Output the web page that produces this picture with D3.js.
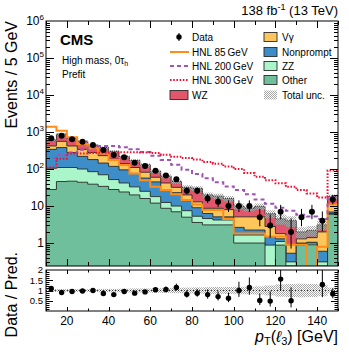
<!DOCTYPE html>
<html>
<head>
<meta charset="utf-8">
<script src="https://cdn.jsdelivr.net/npm/d3@7"></script>
<style>
  body { margin: 0; background: #fff; }
  svg { display: block; font-family: "Liberation Sans", Arial, Helvetica, sans-serif; }
</style>
</head>
<body>
<svg id="chart" width="349" height="352"></svg>
<script>
// pT(l3) bins, 5 GeV wide
const binLow = [10, 15, 20, 25, 30, 35, 40, 45, 50, 55, 60, 65, 70, 75, 80, 85, 90, 95, 100, 105, 110, 115, 120, 125, 130, 135, 140, 145]
const binHigh = 150

// background processes (events per bin)
const other = [28, 46, 47, 44, 39, 34, 28, 24, 20, 16, 12, 8.7, 7, 5, 3.6, 3.1, 3.1, 3.1, 1.0, 1.0, 1.0, 0, 0.88, 0, 0.88, 0.9, 0, 6.0]
const zz = [77, 64, 63, 56, 46, 36, 24, 18, 13, 9, 6, 3.8, 3, 2.5, 1.7, 1.5, 1.1, 1.1, 0.65, 0.65, 0.65, 0.88, 0.22, 0.31, 0.07, 0.1, 0.31, 0.3]
const nonprompt = [235, 270, 170, 120, 95, 75, 66, 53, 43, 32, 27, 15.5, 13, 6.5, 3.7, 1.7, 0.9, 0.9, 1.0, 0.6, 0.6, 0.62, 0.2, 0.22, 0.05, 0.05, 0.29, 0.6]
const vgamma = [80, 180, 140, 120, 100, 85, 67, 45, 34, 25, 15, 14, 9, 6, 4, 2.4, 3.6, 2.9, 2.45, 2.85, 2.85, 1.3, 0.5, 0.37, 0.3, 0.35, 1.4, 4.1]
const wz = [195, 320, 250, 225, 165, 150, 115, 78, 60, 48, 27, 22, 14, 12, 17, 11.3, 9.8, 8, 4.9, 3.6, 4.7, 3.4, 2.7, 3.1, 0.7, 0.8, 1.1, 7]
// relative total uncertainty
const relUnc = [0.07, 0.07, 0.07, 0.07, 0.07, 0.08, 0.08, 0.09, 0.1, 0.1, 0.11, 0.12, 0.13, 0.14, 0.15, 0.16, 0.17, 0.17, 0.18, 0.18, 0.2, 0.24, 0.3, 0.32, 0.33, 0.32, 0.28, 0.14]

// signals
const hnl85 = [1390, 1085, 720, 475, 362, 265, 175, 128, 76, 50, 33, 27, 21, 14.5, 11, 7.8, 7.8, 4.5, 1.8, 1.8, 1.8, 1.5, 1.5, 0.9, 0.9, 0, 0.8, 11]
const hnl200 = [200, 240, 280, 330, 380, 420, 420, 390, 340, 290, 230, 175, 130, 95, 73, 56, 44, 34, 27, 21, 15, 11.5, 9, 7.5, 5.8, 5.2, 4.5, 18]
const hnl300 = [110, 190, 265, 265, 270, 275, 280, 285, 285, 280, 272, 245, 215, 200, 180, 155, 140, 118, 100, 78, 62, 50, 41, 33, 27, 22, 17, 92]

// observed
const data = [676, 795, 635, 550, 445, 325, 240, 207, 148, 121, 90, 67, 53, 26, 26, 16, 13, 10, 10, 10, 5, 3, 7, 2, 5, 7, 4, 15]

const yTickExp = [0, 1, 2, 3, 4, 5, 6]
const xTickLabels = [20, 40, 60, 80, 100, 120, 140]
const ratioTickLabels = [0.5, 1, 1.5, 2]

const colors = {
  wz: '#e1566a',
  vgamma: '#fcc65c',
  nonprompt: '#3d8ec8',
  zz: '#aaf5c9',
  other: '#70bf9c',
  hnl85: '#ff8c17',
  hnl200: '#9e55b3',
  hnl300: '#ee1133'
}

const svg = d3.select('#chart')
const L = 46, R = 338, T = 21, B = 266, RT = 270, RB = 311

const x = d3.scaleLinear().domain([10, binHigh]).range([L, R])
const y = d3.scaleLog().domain([0.24, 1e6]).range([B, T]).clamp(true)
const yr = d3.scaleLinear().domain([0, 2]).range([RB, RT])

const defs = svg.append('defs')
const pat = defs.append('pattern').attr('id', 'unc').attr('width', 2).attr('height', 2)
  .attr('patternUnits', 'userSpaceOnUse')
pat.append('rect').attr('width', 1).attr('height', 1).attr('fill', '#a6a6a6')
pat.append('rect').attr('x', 1).attr('y', 1).attr('width', 1).attr('height', 1).attr('fill', '#a6a6a6')
defs.append('clipPath').attr('id', 'clipMain').append('rect')
  .attr('x', L).attr('y', T).attr('width', R - L).attr('height', B - T)
defs.append('clipPath').attr('id', 'clipRatio').append('rect')
  .attr('x', L).attr('y', RT).attr('width', R - L).attr('height', RB - RT)

const stepPts = vals => binLow.map((b, i) => [b, vals[i]]).concat([[binHigh, vals[vals.length - 1]]])

// ---- main panel
const main = svg.append('g').attr('clip-path', 'url(#clipMain)')
const rows = binLow.map((b, i) => ({ other: other[i], zz: zz[i], nonprompt: nonprompt[i], vgamma: vgamma[i], wz: wz[i] }))
const keys = ['other', 'zz', 'nonprompt', 'vgamma', 'wz']
const series = d3.stack().keys(keys)(rows)
const total = series[series.length - 1].map(d => d[1])

const area = d3.area().curve(d3.curveStepAfter)
  .x(d => x(d[0])).y0(B + 2).y1(d => y(Math.max(d[1], 0.01)))

series.slice().reverse().forEach(s => {
  const tops = s.map(d => d[1])
  main.append('path')
    .attr('d', area(stepPts(tops)))
    .attr('fill', colors[s.key])
    .attr('stroke', '#2a2a2a')
    .attr('stroke-width', 0.9)
})

main.selectAll('rect.unc').data(binLow).join('rect')
  .attr('x', d => x(d)).attr('width', d => x(d + 5) - x(d))
  .attr('y', (d, i) => y(total[i] * (1 + relUnc[i])))
  .attr('height', (d, i) => y(total[i] * (1 - relUnc[i])) - y(total[i] * (1 + relUnc[i])))
  .attr('fill', 'url(#unc)')

const line = d3.line().curve(d3.curveStepAfter).x(d => x(d[0])).y(d => y(Math.max(d[1], 0.01)))
main.append('path').attr('d', line(stepPts(hnl85))).attr('fill', 'none')
  .attr('stroke', colors.hnl85).attr('stroke-width', 2)
main.append('path').attr('d', line(stepPts(hnl200))).attr('fill', 'none')
  .attr('stroke', colors.hnl200).attr('stroke-width', 2).attr('stroke-dasharray', '4,3')
main.append('path').attr('d', line(stepPts(hnl300))).attr('fill', 'none')
  .attr('stroke', colors.hnl300).attr('stroke-width', 2).attr('stroke-dasharray', '1.6,1.6')

// Poisson (Garwood-like) intervals
const errLo = n => n === 0 ? 0 : n - n * Math.pow(1 - 1 / (9 * n) - 1 / (3 * Math.sqrt(n)), 3)
const errHi = n => (n + 1) * Math.pow(1 - 1 / (9 * (n + 1)) + 1 / (3 * Math.sqrt(n + 1)), 3) - n

const cx = i => x(binLow[i] + 2.5)
const pts = main.append('g')
data.forEach((n, i) => {
  pts.append('line').attr('x1', cx(i)).attr('x2', cx(i))
    .attr('y1', y(n + errHi(n))).attr('y2', y(Math.max(n - errLo(n), 0.01)))
    .attr('stroke', '#000').attr('stroke-width', 1)
  pts.append('circle').attr('cx', cx(i)).attr('cy', y(n)).attr('r', 3).attr('fill', '#000')
})

// ---- ratio panel
const rat = svg.append('g').attr('clip-path', 'url(#clipRatio)')
rat.selectAll('rect.unc').data(binLow).join('rect')
  .attr('x', d => x(d)).attr('width', d => x(d + 5) - x(d))
  .attr('y', (d, i) => yr(1 + relUnc[i]))
  .attr('height', (d, i) => yr(1 - relUnc[i]) - yr(1 + relUnc[i]))
  .attr('fill', 'url(#unc)')
rat.append('line').attr('x1', L).attr('x2', R).attr('y1', yr(1)).attr('y2', yr(1))
  .attr('stroke', '#333').attr('stroke-width', 1).attr('stroke-dasharray', '1,2')
data.forEach((n, i) => {
  const r = n / total[i]
  if (r > 2.3) return
  rat.append('line').attr('x1', cx(i)).attr('x2', cx(i))
    .attr('y1', yr((n + errHi(n)) / total[i])).attr('y2', yr((n - errLo(n)) / total[i]))
    .attr('stroke', '#000').attr('stroke-width', 1)
  rat.append('circle').attr('cx', cx(i)).attr('cy', yr(r)).attr('r', 2.7).attr('fill', '#000')
})

// ---- frames and ticks
const axes = svg.append('g').attr('stroke', '#000').attr('stroke-width', 1)
axes.append('rect').attr('x', L).attr('y', T).attr('width', R - L).attr('height', B - T).attr('fill', 'none')
axes.append('rect').attr('x', L).attr('y', RT).attr('width', R - L).attr('height', RB - RT).attr('fill', 'none')

d3.range(-1, 6).forEach(e => {
  d3.range(1, 10).forEach(m => {
    const v = m * Math.pow(10, e)
    if (v < 0.24 || v > 1e6) return
    const len = m === 1 ? 8 : 4
    const yy = Math.round(y(v)) + 0.5
    axes.append('line').attr('x1', L).attr('x2', L + len).attr('y1', yy).attr('y2', yy)
    axes.append('line').attr('x1', R - len).attr('x2', R).attr('y1', yy).attr('y2', yy)
  })
})
d3.range(10, 151, 10).forEach(v => {
  const major = v % 20 === 0
  const xx = Math.round(x(v)) + 0.5
  const lm = major ? 7 : 4, lr = major ? 4 : 2.5
  axes.append('line').attr('x1', xx).attr('x2', xx).attr('y1', B).attr('y2', B - lm)
  axes.append('line').attr('x1', xx).attr('x2', xx).attr('y1', T).attr('y2', T + lm)
  axes.append('line').attr('x1', xx).attr('x2', xx).attr('y1', RB).attr('y2', RB - lr)
  axes.append('line').attr('x1', xx).attr('x2', xx).attr('y1', RT).attr('y2', RT + lr)
})
d3.range(1, 20).forEach(k => {
  const v = k / 10
  const len = k % 5 === 0 ? 7 : 3.5
  const yy = Math.round(yr(v)) + 0.5
  axes.append('line').attr('x1', L).attr('x2', L + len).attr('y1', yy).attr('y2', yy)
  axes.append('line').attr('x1', R - len).attr('x2', R).attr('y1', yy).attr('y2', yy)
})

// ---- tick labels
const lab = svg.append('g').attr('font-size', 12).attr('fill', '#000')
yTickExp.forEach(e => {
  const t = lab.append('text').attr('x', 44).attr('y', y(Math.pow(10, e)) + 4).attr('text-anchor', 'end')
  if (e === 0) t.text('1')
  else if (e === 1) t.text('10')
  else {
    t.append('tspan').text('10')
    t.append('tspan').attr('font-size', 8).attr('dy', -5).text(e)
  }
})
ratioTickLabels.forEach(v => {
  lab.append('text').attr('x', 43).attr('y', yr(v) + 3.3).attr('text-anchor', 'end')
    .attr('font-size', 9.5).text(v)
})
xTickLabels.forEach(v => {
  lab.append('text').attr('x', x(v)).attr('y', 325).attr('text-anchor', 'middle').text(v)
})

// ---- titles
svg.append('text').attr('transform', `translate(17,${T}) rotate(-90)`)
  .attr('text-anchor', 'end').attr('font-size', 16).text('Events / 5 GeV')
svg.append('text').attr('transform', 'translate(17,252) rotate(-90)')
  .attr('text-anchor', 'end').attr('font-size', 16).text('Data / Pred.')

const xt = svg.append('text').attr('x', R).attr('y', 342).attr('text-anchor', 'end').attr('font-size', 16)
xt.append('tspan').attr('font-style', 'italic').text('p')
xt.append('tspan').attr('font-size', 11).attr('dy', 3).text('T')
xt.append('tspan').attr('dy', -3).text('(')
xt.append('tspan').attr('font-style', 'italic').text('ℓ')
xt.append('tspan').attr('font-size', 11).attr('dy', 3).text('3')
xt.append('tspan').attr('dy', -3).text(') [GeV]')

const lumi = svg.append('text').attr('x', R).attr('y', 15).attr('text-anchor', 'end').attr('font-size', 13)
lumi.append('tspan').text('138 fb')
lumi.append('tspan').attr('font-size', 9).attr('dy', -5).text('-1')
lumi.append('tspan').attr('dy', 5).text(' (13 TeV)')

svg.append('text').attr('x', 60).attr('y', 45).attr('font-size', 15).attr('font-weight', 'bold').text('CMS')
const cat = svg.append('text').attr('x', 62).attr('y', 64).attr('font-size', 10)
cat.append('tspan').text('High mass, 0τ')
cat.append('tspan').attr('font-size', 7).attr('dy', 2).text('h')
svg.append('text').attr('x', 62).attr('y', 78).attr('font-size', 10).text('Prefit')

// ---- legend
const rowsY = [37, 52, 66, 80, 95]
const leg = svg.append('g').attr('font-size', 10)
const addText = (xx, yy, s) => leg.append('text').attr('x', xx).attr('y', yy + 3.5).text(s)

leg.append('line').attr('x1', 179).attr('x2', 179).attr('y1', rowsY[0] - 4).attr('y2', rowsY[0] + 4).attr('stroke', '#000')
leg.append('circle').attr('cx', 179).attr('cy', rowsY[0]).attr('r', 2.7)
addText(192, rowsY[0], 'Data')
leg.append('line').attr('x1', 170).attr('x2', 189).attr('y1', rowsY[1]).attr('y2', rowsY[1])
  .attr('stroke', colors.hnl85).attr('stroke-width', 2)
addText(192, rowsY[1], 'HNL 85\u2009GeV')
leg.append('line').attr('x1', 170).attr('x2', 189).attr('y1', rowsY[2]).attr('y2', rowsY[2])
  .attr('stroke', colors.hnl200).attr('stroke-width', 2).attr('stroke-dasharray', '4,3')
addText(192, rowsY[2], 'HNL 200\u2009GeV')
leg.append('line').attr('x1', 170).attr('x2', 189).attr('y1', rowsY[3]).attr('y2', rowsY[3])
  .attr('stroke', colors.hnl300).attr('stroke-width', 2).attr('stroke-dasharray', '1.6,1.6')
addText(192, rowsY[3], 'HNL 300\u2009GeV')
leg.append('rect').attr('x', 170).attr('y', rowsY[4] - 4.5).attr('width', 18).attr('height', 9)
  .attr('fill', colors.wz).attr('stroke', '#2a2a2a').attr('stroke-width', 0.9)
addText(192, rowsY[4], 'WZ')

const col2 = [['vgamma', 'Vγ'], ['nonprompt', 'Nonprompt'], ['zz', 'ZZ'], ['other', 'Other']]
col2.forEach(([k, s], i) => {
  leg.append('rect').attr('x', 264).attr('y', rowsY[i] - 4.5).attr('width', 13).attr('height', 9)
    .attr('fill', colors[k]).attr('stroke', '#2a2a2a').attr('stroke-width', 0.9)
  addText(282, rowsY[i], s)
})
leg.append('rect').attr('x', 264).attr('y', rowsY[4] - 4.5).attr('width', 13).attr('height', 9)
  .attr('fill', 'url(#unc)')
addText(282, rowsY[4], 'Total unc.')
</script>
</body>
</html>
